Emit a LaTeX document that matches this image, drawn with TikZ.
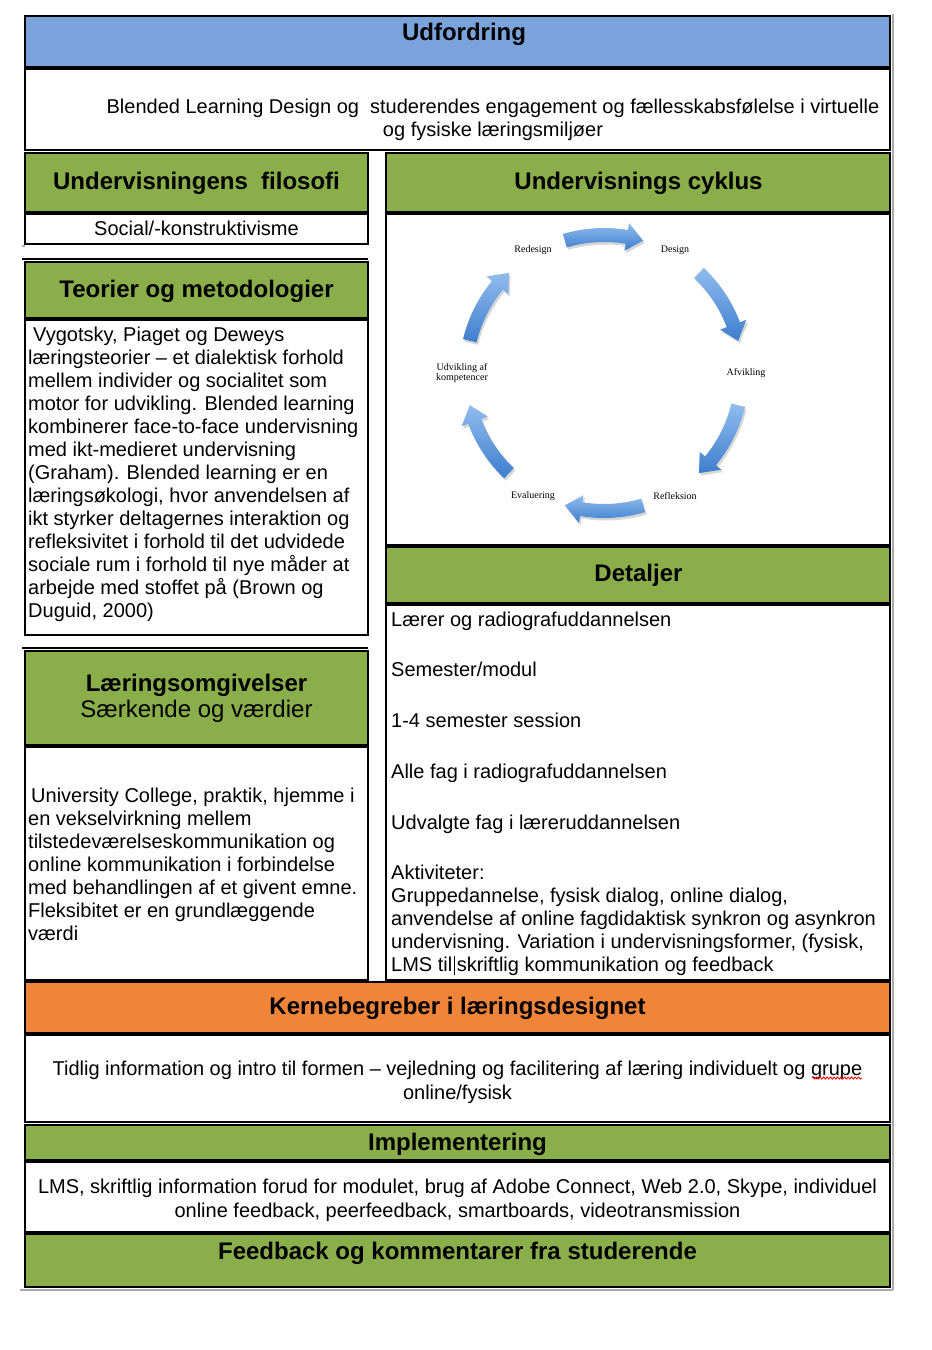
\documentclass[tikz,border=0pt]{standalone}
\usepackage{fontspec}
\setmainfont{Liberation Sans}
\newfontfamily\cycfont{Liberation Serif}
\usetikzlibrary{decorations.pathmorphing}
\definecolor{hdrgreen}{RGB}{138,174,73}
\definecolor{hdrblue}{RGB}{122,163,219}
\definecolor{hdrorange}{RGB}{240,133,58}
\definecolor{arrlight}{RGB}{145,188,238}
\definecolor{arrdark}{RGB}{62,126,206}
\definecolor{shadowgray}{RGB}{170,170,170}
\tikzset{
  box/.style={draw=black, line width=2pt},
  hdr/.style={box, fill=hdrgreen},
  htext/.style={font=\fontsize{24}{27}\selectfont\bfseries, anchor=base, inner sep=0},
  hsub/.style={font=\fontsize{24}{27}\selectfont, anchor=base, inner sep=0},
  btext/.style={font=\fontsize{20}{23}\selectfont, inner sep=0, anchor=base},
  para/.style={font=\fontsize{20}{23}\selectfont, inner sep=0, align=left, anchor=north west},
  cpara/.style={font=\fontsize{20}{24}\selectfont, inner sep=0, align=center, anchor=north},
  cyc/.style={font=\cycfont\fontsize{10}{10.5}\selectfont, inner sep=0, align=center},
  shadowline/.style={draw=shadowgray, line width=1.2pt},
}
\begin{document}
\begin{tikzpicture}[x=1pt,y=-1pt]
\useasboundingbox (0,0) rectangle (932,1350);
\fill[white] (0,0) rectangle (932,1350);

% shadow lines
\draw[shadowline] (893,14) -- (893,1290);
\draw[shadowline] (20,1290) -- (893,1290);

% top: challenge
\draw[box, fill=hdrblue] (25,16) rectangle (890,67);
\node[htext] (udf) at (464,40) {Udfordring};
\draw[box, fill=white] (25,69) rectangle (890,150);
\node[cpara, font=\fontsize{20}{23}\selectfont] (udftxt) at (493,97)
  {\strut Blended Learning Design og\ \ studerendes engagement og fællesskabsfølelse i virtuelle\\ og fysiske læringsmiljøer};

% left column
\draw[hdr] (25,153) rectangle (368,212);
\node[htext] (filo) at (196.5,189) {Undervisningens\ \ filosofi};
\draw[box, fill=white] (25,214) rectangle (368,244);
\node[btext] (social) at (196.5,235) {Social/-konstruktivisme};
\draw[shadowline] (22,246) -- (25,246);

\draw[box] (22,259) -- (368,259);
\draw[hdr] (25,262) rectangle (368,318);
\node[htext] (teori) at (196.5,297) {Teorier og metodologier};
\draw[box, fill=white] (25,320) rectangle (368,635);
\node[para] (teoritxt) at (28,325)
  {\strut\hspace{5pt}Vygotsky, Piaget og Deweys\\
   læringsteorier – et dialektisk forhold\\
   mellem individer og socialitet som\\
   motor for udvikling. Blended learning\\
   kombinerer face-to-face undervisning\\
   med ikt-medieret undervisning\\
   (Graham). Blended learning er en\\
   læringsøkologi, hvor anvendelsen af\\
   ikt styrker deltagernes interaktion og\\
   refleksivitet i forhold til det udvidede\\
   sociale rum i forhold til nye måder at\\
   arbejde med stoffet på (Brown og\\
   Duguid, 2000)};

\draw[box] (22,648) -- (368,648);
\draw[hdr] (25,651) rectangle (368,745);
\node[htext] (laer) at (196.5,691) {Læringsomgivelser};
\node[hsub] (saer) at (196.5,717) {Særkende og værdier};
\draw[box, fill=white] (25,747) rectangle (368,980);
\node[para] (laertxt) at (28,786)
  {\strut\hspace{3pt}University College, praktik, hjemme i\\
   en vekselvirkning mellem\\
   tilstedeværelseskommunikation og\\
   online kommunikation i forbindelse\\
   med behandlingen af et givent emne.\\
   Fleksibitet er en grundlæggende\\
   værdi};

% right column
\draw[hdr] (386,153) rectangle (890,212);
\node[htext] (cyk) at (638.5,189) {Undervisnings cyklus};
\draw[box, fill=white] (386,214) rectangle (890,545);

\begin{scope}[shift={(604,373)}, y=1pt]
  \foreach \p in {90,30,-30,-90,-150,150}{
    \pgfmathsetmacro\ta{\p+16.5}
    \pgfmathsetmacro\tb{\p-9.5}
    \pgfmathsetmacro\tc{\p-16.5}
    \fill[black, opacity=0.16, shift={(1.5pt,-2.5pt)}]
      (\ta:145pt) arc[start angle=\ta, end angle=\tb, radius=145pt]
      -- (\tb:152pt) -- (\tc:138pt) -- (\tb:124pt) -- (\tb:131pt)
      arc[start angle=\tb, end angle=\ta, radius=131pt] -- cycle;
    \shade[top color=arrlight, bottom color=arrdark]
      (\ta:145pt) arc[start angle=\ta, end angle=\tb, radius=145pt]
      -- (\tb:152pt) -- (\tc:138pt) -- (\tb:124pt) -- (\tb:131pt)
      arc[start angle=\tb, end angle=\ta, radius=131pt] -- cycle;
  }
  \node[cyc] (redesign) at (-71,123) {Redesign};
  \node[cyc] (design) at (71,123) {Design};
  \node[cyc] (afvikling) at (142,0) {Afvikling};
  \node[cyc] (refleksion) at (71,-123) {Refleksion};
  \node[cyc] (evaluering) at (-71,-123) {Evaluering};
  \node[cyc] (udvikling) at (-142,0) {Udvikling af\\kompetencer};
\end{scope}

\draw[hdr] (386,547) rectangle (890,603);
\node[htext] (detal) at (638.5,581) {Detaljer};
\draw[box, fill=white] (386,605) rectangle (890,980);
\node[para] (d1) at (391,610) {\strut Lærer og radiografuddannelsen};
\node[para] (d2) at (391,660) {\strut Semester/modul};
\node[para] (d3) at (391,711) {\strut 1-4 semester session};
\node[para] (d4) at (391,762) {\strut Alle fag i radiografuddannelsen};
\node[para] (d5) at (391,813) {\strut Udvalgte fag i læreruddannelsen};
\node[para] (d6) at (391,863)
  {\strut Aktiviteter:\\
   Gruppedannelse, fysisk dialog, online dialog,\\
   anvendelse af online fagdidaktisk synkron og asynkron\\
   undervisning. Variation i undervisningsformer, (fysisk,\\
   LMS til\hspace{1.5pt}\rule[-4pt]{1pt}{19pt}\hspace{2pt}skriftlig kommunikation og feedback};

% bottom rows
\draw[box, fill=hdrorange] (25,982) rectangle (890,1033);
\node[htext] (kerne) at (457.5,1014) {Kernebegreber i læringsdesignet};
\draw[box, fill=white] (25,1035) rectangle (890,1122);
\node[cpara] (kernetxt) at (457.5,1058)
  {\strut Tidlig information og intro til formen – vejledning og facilitering af læring individuelt og grupe\\
   online/fysisk};
\draw[red, line width=0.9pt, decorate, decoration={snake, amplitude=1pt, segment length=3.5pt}]
  (812,1078) -- (862,1078);

\draw[hdr] (25,1125) rectangle (890,1160);
\node[htext] (impl) at (457.5,1150) {Implementering};
\draw[box, fill=white] (25,1162) rectangle (890,1232);
\node[cpara] (impltxt) at (457.5,1176)
  {\strut LMS, skriftlig information forud for modulet, brug af Adobe Connect, Web 2.0, Skype, individuel\\
   online feedback, peerfeedback, smartboards, videotransmission};

\draw[hdr] (25,1234) rectangle (890,1287);
\node[htext] (feed) at (457.5,1259) {Feedback og kommentarer fra studerende};
\end{tikzpicture}
\end{document}
